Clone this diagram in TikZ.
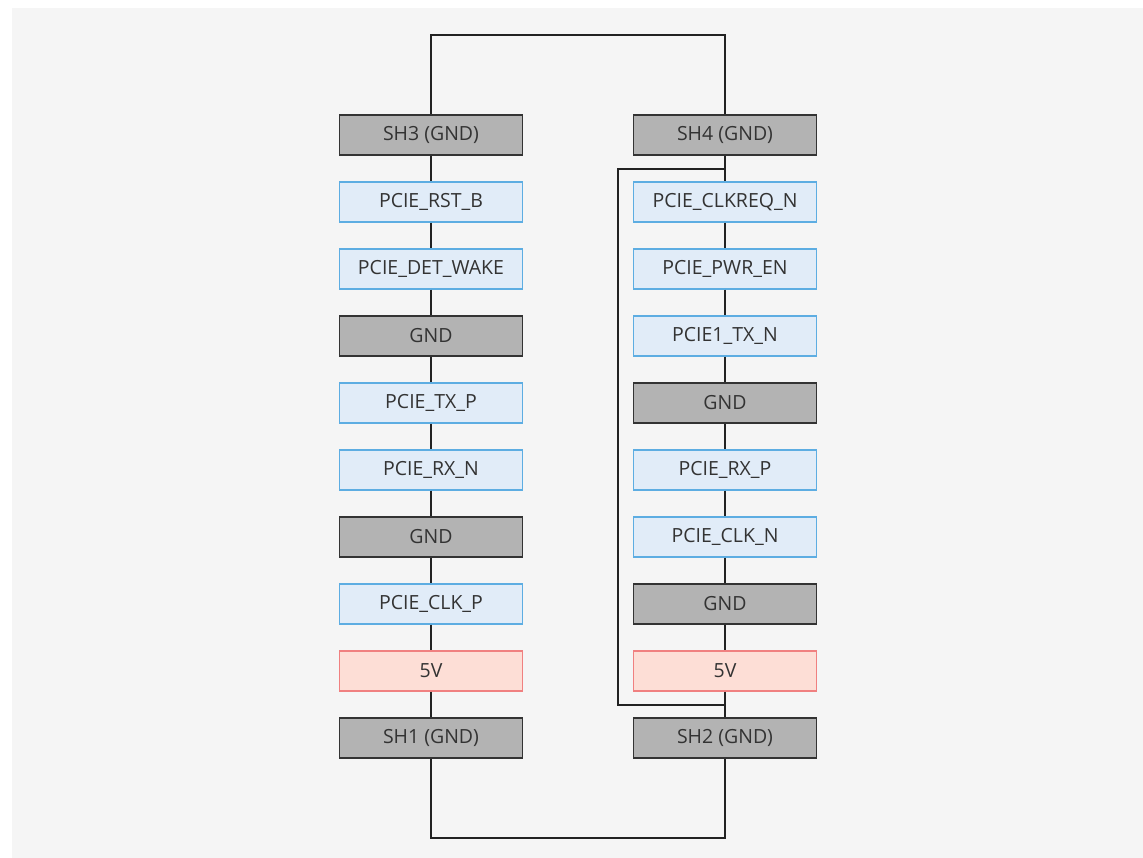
\documentclass[tikz,border=0pt]{standalone}
\usepackage{fontspec}
\setmainfont{Open Sans}
\definecolor{bgc}{HTML}{F5F5F5}
\definecolor{gndfill}{HTML}{B3B3B3}
\definecolor{gnddraw}{HTML}{333333}
\definecolor{sigfill}{HTML}{E1ECF8}
\definecolor{sigdraw}{HTML}{5DADE2}
\definecolor{pwrfill}{HTML}{FDDED6}
\definecolor{pwrdraw}{HTML}{F08080}
\definecolor{txt}{HTML}{333333}
\definecolor{wire}{HTML}{222222}
\tikzset{
  pin/.style={minimum width=183pt, minimum height=40pt, inner sep=0pt, font=\fontsize{19.5}{22}\selectfont, text=txt, line width=1.3pt},
  gndbox/.style={pin, fill=gndfill, draw=gnddraw},
  sigbox/.style={pin, fill=sigfill, draw=sigdraw},
  pwrbox/.style={pin, fill=pwrfill, draw=pwrdraw},
  wireline/.style={draw=wire, line width=1.8pt},
}
\begin{document}
\begin{tikzpicture}[x=1pt,y=-1pt]
\useasboundingbox (0,0) rectangle (1143,858);
\fill[white] (0,0) rectangle (1143,858);
\fill[bgc] (12,8) rectangle (1143,858);
% coordinates for loops
\coordinate (tl) at (431,35);
\coordinate (tr) at (725,35);
\coordinate (bl) at (431,838);
\coordinate (br) at (725,838);
\coordinate (ra) at (725,169);
\coordinate (rb) at (618,169);
\coordinate (rc) at (618,705);
\coordinate (rd) at (725,705);
% left column
\node[gndbox] (l1) at (431,135) {SH3 (GND)};
\node[sigbox] (l2) at (431,202) {PCIE\_RST\_B};
\node[sigbox] (l3) at (431,269) {PCIE\_DET\_WAKE};
\node[gndbox] (l4) at (431,336) {GND};
\node[sigbox] (l5) at (431,403) {PCIE\_TX\_P};
\node[sigbox] (l6) at (431,470) {PCIE\_RX\_N};
\node[gndbox] (l7) at (431,537) {GND};
\node[sigbox] (l8) at (431,604) {PCIE\_CLK\_P};
\node[pwrbox] (l9) at (431,671) {5V};
\node[gndbox] (l10) at (431,738) {SH1 (GND)};
% right column
\node[gndbox] (r1) at (725,135) {SH4 (GND)};
\node[sigbox] (r2) at (725,202) {PCIE\_CLKREQ\_N};
\node[sigbox] (r3) at (725,269) {PCIE\_PWR\_EN};
\node[sigbox] (r4) at (725,336) {PCIE1\_TX\_N};
\node[gndbox] (r5) at (725,403) {GND};
\node[sigbox] (r6) at (725,470) {PCIE\_RX\_P};
\node[sigbox] (r7) at (725,537) {PCIE\_CLK\_N};
\node[gndbox] (r8) at (725,604) {GND};
\node[pwrbox] (r9) at (725,671) {5V};
\node[gndbox] (r10) at (725,738) {SH2 (GND)};
% connectors
\foreach \a/\b in {l1/l2,l2/l3,l3/l4,l4/l5,l5/l6,l6/l7,l7/l8,l8/l9,l9/l10,
                   r1/r2,r2/r3,r3/r4,r4/r5,r5/r6,r6/r7,r7/r8,r8/r9,r9/r10}
  \draw[wireline] (\a.south) -- (\b.north);
\draw[wireline] (l1.north) -- (tl) -- (tr) -- (r1.north);
\draw[wireline] (l10.south) -- (bl) -- (br) -- (r10.south);
\draw[wireline] (ra) -- (rb) -- (rc) -- (rd);
\end{tikzpicture}
\end{document}
